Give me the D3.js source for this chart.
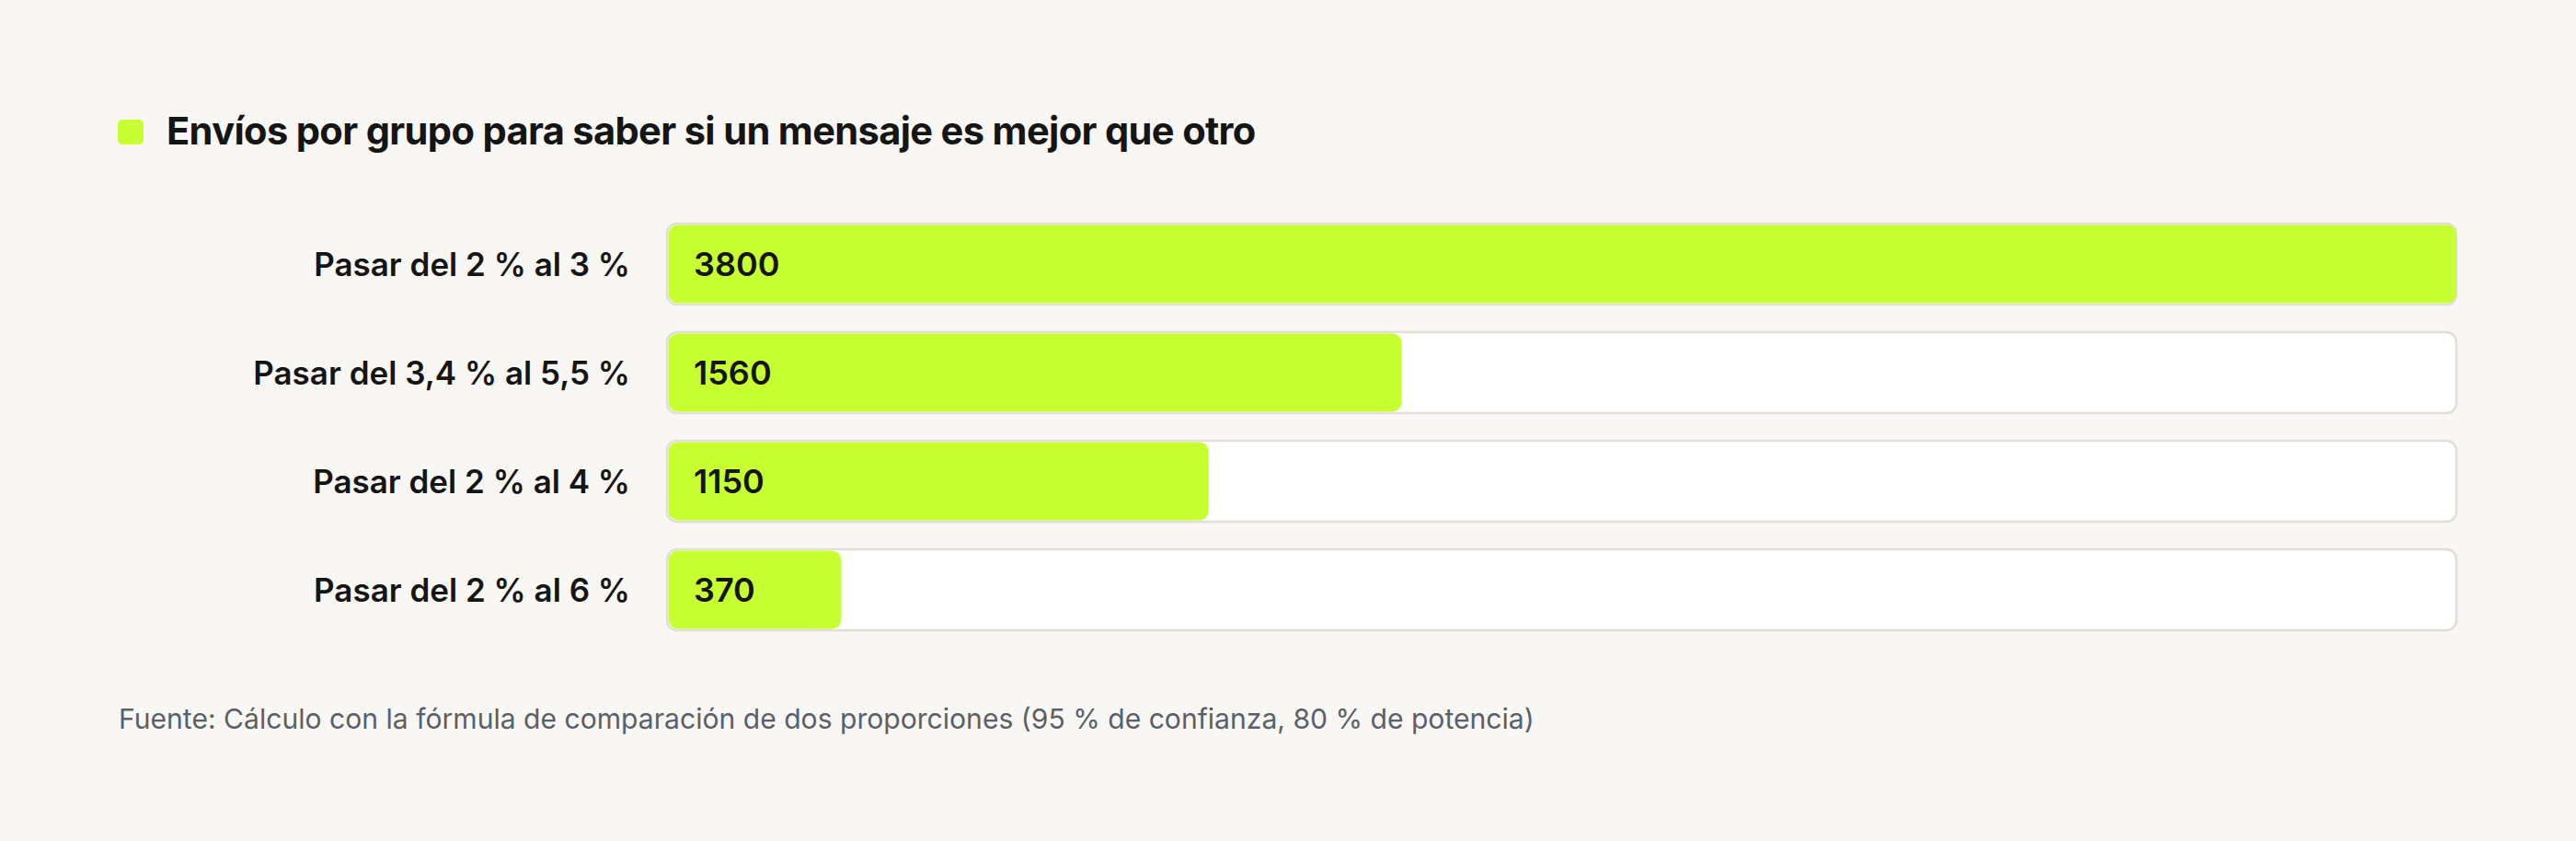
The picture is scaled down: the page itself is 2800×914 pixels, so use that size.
<!DOCTYPE html>
<html>
<head>
<meta charset="utf-8">
<script src="https://cdn.jsdelivr.net/npm/d3@7"></script>
<style>
  html, body { margin: 0; padding: 0; background: #f9f7f3; }
  svg { display: block; font-family: Inter, "Noto Sans", sans-serif; }
</style>
</head>
<body>
<script>
var width = 2800, height = 914;

// data
var categories = ["Pasar del 2 % al 3 %", "Pasar del 3,4 % al 5,5 %", "Pasar del 2 % al 4 %", "Pasar del 2 % al 6 %"];
var values = [3800, 1560, 1150, 370];
var maxValue = 3800;
var titleText = "Envíos por grupo para saber si un mensaje es mejor que otro";
var sourceText = "Fuente: Cálculo con la fórmula de comparación de dos proporciones (95 % de confianza, 80 % de potencia)";

var lime = "#c8ff33";
var trackStroke = "#e1ded6";

var svg = d3.select("body").append("svg")
    .attr("width", width)
    .attr("height", height);

svg.append("rect")
    .attr("width", width)
    .attr("height", height)
    .attr("fill", "#f9f7f3");

var xScale = d3.scaleLinear()
    .domain([0, maxValue])
    .range([725, 2670]);

var yScale = d3.scaleBand()
    .domain(categories)
    .range([243, 685])
    .paddingInner(0.254);

// title with the little lime square
svg.append("rect")
    .attr("x", 128)
    .attr("y", 130)
    .attr("width", 28)
    .attr("height", 27)
    .attr("rx", 5)
    .attr("fill", lime);

svg.append("text")
    .attr("x", 181)
    .attr("y", 157)
    .attr("font-size", 41.6)
    .attr("font-weight", 700)
    .attr("fill", "#151515")
    .attr("letter-spacing", -0.65)
    .text(titleText);

var rows = svg.append("g").selectAll("g")
    .data(categories)
  .enter().append("g");

// white track behind every bar
rows.append("rect")
    .attr("x", xScale(0))
    .attr("y", function(d) { return yScale(d); })
    .attr("width", xScale(maxValue) - xScale(0))
    .attr("height", yScale.bandwidth())
    .attr("rx", 11)
    .attr("fill", "#ffffff")
    .attr("stroke", trackStroke)
    .attr("stroke-width", 2.5);

rows.append("rect")
    .attr("x", xScale(0) + 1.5)
    .attr("y", function(d) { return yScale(d) + 1.5; })
    .attr("width", function(d, i) { return xScale(values[i]) - xScale(0) - 1.5; })
    .attr("height", yScale.bandwidth() - 3)
    .attr("rx", 10)
    .attr("fill", lime);

rows.append("text")
    .attr("x", 685)
    .attr("y", function(d) { return yScale(d) + yScale.bandwidth() / 2 + 13; })
    .attr("text-anchor", "end")
    .attr("font-size", 35)
    .attr("font-weight", 600)
    .attr("fill", "#151515")
    .text(function(d) { return d; });

rows.append("text")
    .attr("x", xScale(0) + 29)
    .attr("y", function(d) { return yScale(d) + yScale.bandwidth() / 2 + 13; })
    .attr("font-size", 36)
    .attr("font-weight", 600)
    .attr("fill", "#151515")
    .text(function(d, i) { return values[i]; });

svg.append("text")
    .attr("x", 129)
    .attr("y", 792)
    .attr("font-size", 30.1)
    .attr("font-weight", 400)
    .attr("fill", "#5b6068")
    .text(sourceText);
</script>
</body>
</html>
